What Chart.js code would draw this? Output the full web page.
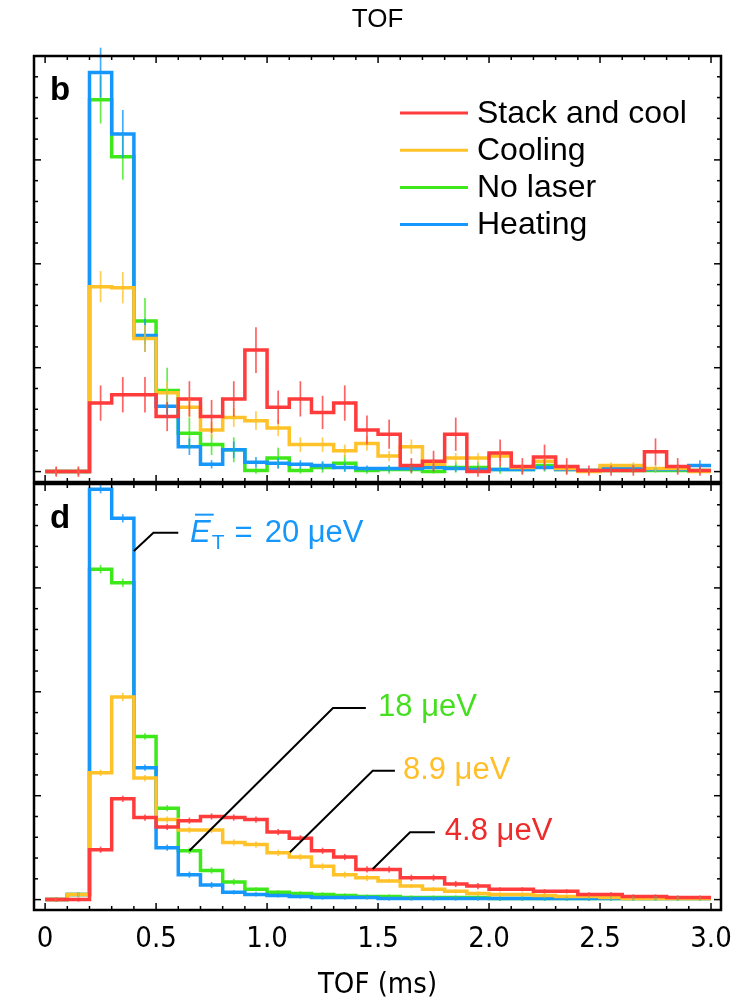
<!DOCTYPE html>
<html>
<head>
<meta charset="utf-8">
<script src="https://cdn.jsdelivr.net/npm/chart.js@4.4.1/dist/chart.umd.min.js"></script>
<style>
  html, body { margin: 0; padding: 0; background: #fff; }
  #wrap { position: relative; width: 749px; height: 1001px; overflow: hidden; }
  canvas { position: absolute; left: 0; }
  #top { top: 0; }
  #bottom { top: 476px; }
</style>
</head>
<body>
<div id="wrap">
  <canvas id="top" width="749" height="490"></canvas>
  <canvas id="bottom" width="749" height="525"></canvas>
</div>
<script>
// TOF histogram bin edges (ms), 0.1 ms bins
const binEdges = [0.0, 0.1, 0.2, 0.3, 0.4, 0.5, 0.6, 0.7, 0.8, 0.9, 1.0, 1.1, 1.2, 1.3, 1.4, 1.5,
  1.6, 1.7, 1.8, 1.9, 2.0, 2.1, 2.2, 2.3, 2.4, 2.5, 2.6, 2.7, 2.8, 2.9, 3.0];

const seriesNames = ['Stack and cool', 'Cooling', 'No laser', 'Heating'];
const seriesColors = ['#ff3b3b', '#ffc229', '#3ee81a', '#1597fb'];
const seriesLayer = [0, 1, 3, 2]; // red on top, heating above no laser

// panel b (measured)
const bStack = [0.00, 0.00, 0.66, 0.74, 0.74, 0.53, 0.70, 0.53, 0.70, 1.17, 0.62, 0.70, 0.57, 0.66, 0.40,
  0.36, 0.06, 0.10, 0.36, 0.00, 0.18, 0.05, 0.14, 0.05, 0.01, 0.01, 0.01, 0.19, 0.05, 0.01];
const bCool = [0.00, 0.00, 1.78, 1.77, 1.28, 0.76, 0.62, 0.40, 0.52, 0.49, 0.42, 0.26, 0.26, 0.20, 0.27,
  0.15, 0.24, 0.07, 0.13, 0.13, 0.15, 0.04, 0.10, 0.03, 0.00, 0.06, 0.06, 0.03, 0.03, 0.00];
const bNoLaser = [0.00, 0.00, 3.58, 3.03, 1.45, 0.78, 0.37, 0.26, 0.21, 0.01, 0.13, 0.01, 0.04, 0.08, 0.01,
  0.02, 0.02, 0.00, 0.04, 0.04, 0.02, 0.02, 0.06, 0.02, 0.01, 0.01, 0.01, 0.01, 0.01, 0.01];
const bHeat = [0.00, 0.00, 3.84, 3.25, 1.31, 0.63, 0.24, 0.07, 0.21, 0.09, 0.08, 0.07, 0.06, 0.04, 0.03,
  0.03, 0.03, 0.04, 0.03, 0.02, 0.02, 0.02, 0.04, 0.02, 0.01, 0.03, 0.04, 0.02, 0.02, 0.06];

const bStackErr = [0.05, 0.05, 0.17, 0.17, 0.17, 0.14, 0.17, 0.16, 0.17, 0.22, 0.16, 0.17, 0.16, 0.17, 0.14,
  0.14, 0.07, 0.10, 0.16, 0.05, 0.13, 0.08, 0.12, 0.08, 0.05, 0.05, 0.05, 0.13, 0.08, 0.05];
const bCoolErr = [0.03, 0.03, 0.15, 0.15, 0.13, 0.11, 0.10, 0.08, 0.09, 0.09, 0.08, 0.07, 0.07, 0.06, 0.07,
  0.05, 0.07, 0.04, 0.05, 0.05, 0.05, 0.03, 0.04, 0.03, 0.02, 0.03, 0.03, 0.03, 0.03, 0.02];
const bNoLaserErr = [0.03, 0.03, 0.23, 0.22, 0.22, 0.22, 0.15, 0.10, 0.12, 0.03, 0.10, 0.03, 0.05, 0.08, 0.03,
  0.04, 0.04, 0.02, 0.05, 0.05, 0.04, 0.04, 0.06, 0.04, 0.02, 0.02, 0.02, 0.02, 0.02, 0.02];
const bHeatErr = [0.03, 0.03, 0.24, 0.23, 0.16, 0.11, 0.08, 0.04, 0.08, 0.05, 0.05, 0.04, 0.04, 0.04, 0.03,
  0.03, 0.03, 0.03, 0.03, 0.02, 0.02, 0.02, 0.03, 0.02, 0.02, 0.03, 0.03, 0.02, 0.02, 0.05];

// panel d (simulated)
const dStack = [0.00, 0.00, 0.48, 0.97, 0.79, 0.70, 0.76, 0.80, 0.79, 0.77, 0.65, 0.59, 0.47, 0.41, 0.29,
  0.29, 0.21, 0.21, 0.15, 0.13, 0.10, 0.10, 0.08, 0.08, 0.05, 0.05, 0.03, 0.03, 0.02, 0.02];
const dCool = [0.00, 0.05, 1.22, 1.95, 1.17, 0.77, 0.67, 0.67, 0.55, 0.53, 0.45, 0.41, 0.32, 0.24, 0.21,
  0.18, 0.13, 0.10, 0.08, 0.06, 0.05, 0.05, 0.04, 0.03, 0.03, 0.02, 0.01, 0.01, 0.01, 0.01];
const dNoLaser = [0.00, 0.05, 3.18, 3.05, 1.57, 0.88, 0.47, 0.28, 0.17, 0.10, 0.07, 0.06, 0.05, 0.04, 0.03,
  0.03, 0.02, 0.02, 0.02, 0.02, 0.01, 0.01, 0.01, 0.01, 0.01, 0.01, 0.01, 0.01, 0.01, 0.01];
const dHeat = [0.00, 0.05, 3.95, 3.67, 1.27, 0.50, 0.24, 0.14, 0.07, 0.05, 0.04, 0.03, 0.02, 0.02, 0.02,
  0.01, 0.01, 0.01, 0.01, 0.01, 0.01, 0.01, 0.01, 0.01, 0.01, 0.01, 0.01, 0.01, 0.01, 0.01];

const dStackErr = [0.02, 0.02, 0.03, 0.03, 0.03, 0.03, 0.03, 0.03, 0.03, 0.03, 0.03, 0.03, 0.03, 0.03, 0.03,
  0.03, 0.03, 0.03, 0.03, 0.03, 0.02, 0.02, 0.02, 0.02, 0.02, 0.02, 0.02, 0.02, 0.02, 0.02];
const dCoolErr = [0.02, 0.02, 0.03, 0.04, 0.03, 0.03, 0.03, 0.03, 0.03, 0.03, 0.03, 0.03, 0.03, 0.03, 0.03,
  0.02, 0.02, 0.02, 0.02, 0.02, 0.02, 0.02, 0.02, 0.02, 0.02, 0.02, 0.02, 0.02, 0.02, 0.02];
const dNoLaserErr = [0.02, 0.02, 0.04, 0.04, 0.03, 0.03, 0.03, 0.03, 0.03, 0.02, 0.02, 0.02, 0.02, 0.02, 0.02,
  0.02, 0.02, 0.02, 0.02, 0.02, 0.02, 0.02, 0.02, 0.02, 0.02, 0.02, 0.02, 0.02, 0.02, 0.02];
const dHeatErr = [0.02, 0.02, 0.04, 0.04, 0.03, 0.03, 0.03, 0.03, 0.02, 0.02, 0.02, 0.02, 0.02, 0.02, 0.02,
  0.02, 0.02, 0.02, 0.02, 0.02, 0.02, 0.02, 0.02, 0.02, 0.02, 0.02, 0.02, 0.02, 0.02, 0.02];

const xTickValues = [0, 0.5, 1.0, 1.5, 2.0, 2.5, 3.0];
const xTickLabels = ['0', '0.5', '1.0', '1.5', '2.0', '2.5', '3.0'];

// mean energy labels for panel d, placed in data coordinates
const energyNotes = [
  { label: '20 μeV', color: '#1597fb', symbol: true, at: [0.653, 3.445],
    path: [[0.40, 3.355], [0.488, 3.531], [0.60, 3.531]] },
  { label: '18 μeV', color: '#45df1f', at: [1.50, 1.767],
    path: [[0.650, 0.471], [1.297, 1.844], [1.445, 1.844]] },
  { label: '8.9 μeV', color: '#ffbf2a', at: [1.612, 1.161],
    path: [[1.103, 0.455], [1.476, 1.241], [1.576, 1.241]] },
  { label: '4.8 μeV', color: '#ee2b2b', at: [1.801, 0.574],
    path: [[1.476, 0.295], [1.644, 0.648], [1.756, 0.648]] },
];

const SANS = '"Liberation Sans", Arial, Helvetica, sans-serif';
const NARROW = '"Liberation Sans Narrow", "DejaVu Sans Condensed", "Liberation Sans", sans-serif';

// histogram outline: value of each bin held from its left edge to its right edge
const toSteps = (vals) => {
  const pts = vals.map((v, i) => ({ x: binEdges[i], y: v }));
  pts.push({ x: binEdges[vals.length], y: vals[vals.length - 1] });
  return pts;
};

const makeDatasets = (series, errs) => series.map((vals, i) => ({
  label: seriesNames[i],
  data: toSteps(vals),
  err: errs[i],
  order: seriesLayer[i],
  borderColor: seriesColors[i],
  borderWidth: 3.5,
  stepped: 'before',
  pointRadius: 0,
  fill: false,
  clip: 6,
}));

const line = (ctx, x1, y1, x2, y2) => {
  ctx.beginPath();
  ctx.moveTo(x1, y1);
  ctx.lineTo(x2, y2);
  ctx.stroke();
};

const panelPlugin = {
  id: 'panel',
  afterDatasetsDraw(chart, args, opts) {
    const { ctx, chartArea: a } = chart;
    const xs = chart.scales.x;
    const ys = chart.scales.y;
    ctx.save();

    // error bars, back layer first
    const sets = chart.data.datasets.slice().sort((p, q) => q.order - p.order);
    sets.forEach(ds => {
      ctx.strokeStyle = ds.borderColor;
      ctx.globalAlpha = 0.8;
      ctx.lineWidth = 1.7;
      ds.err.forEach((e, i) => {
        const xc = xs.getPixelForValue((binEdges[i] + binEdges[i + 1]) / 2);
        const v = ds.data[i].y;
        line(ctx, xc, ys.getPixelForValue(v - e), xc, ys.getPixelForValue(v + e));
      });
    });
    ctx.globalAlpha = 1;

    // frame with inward ticks on all four sides
    ctx.strokeStyle = '#000';
    ctx.lineWidth = 2.5;
    ctx.strokeRect(a.left, a.top, a.right - a.left, a.bottom - a.top);
    ctx.lineWidth = 1.5;
    for (let i = 0; i <= 30; i++) {
      const px = xs.getPixelForValue(i / 10);
      const len = i % 5 === 0 ? 7 : 4;
      line(ctx, px, a.top, px, a.top + len);
      line(ctx, px, a.bottom, px, a.bottom - len);
    }
    for (let i = 0; i <= 20; i++) {
      const py = ys.getPixelForValue(i / 5);
      const len = i % 5 === 0 ? 7 : 4;
      line(ctx, a.left, py, a.left + len, py);
      line(ctx, a.right, py, a.right - len, py);
    }

    // panel letter
    ctx.fillStyle = '#000';
    ctx.font = 'bold 33px ' + SANS;
    ctx.textBaseline = 'alphabetic';
    ctx.fillText(opts.letter, a.left + 16, a.top + 44);

    // legend
    if (opts.legend) {
      ctx.font = '32px ' + SANS;
      ctx.textBaseline = 'middle';
      seriesNames.forEach((name, i) => {
        const yy = a.top + 57 + i * 37.2;
        ctx.strokeStyle = seriesColors[i];
        ctx.lineWidth = 3;
        line(ctx, a.right - 321, yy, a.right - 253, yy);
        ctx.fillStyle = '#000';
        ctx.fillText(name, a.right - 244, yy + 1);
      });
    }

    // energy annotations with leader lines
    if (opts.notes) {
      opts.notes.forEach(n => {
        ctx.strokeStyle = '#000';
        ctx.lineWidth = 2;
        ctx.beginPath();
        n.path.forEach((p, k) => {
          const px = xs.getPixelForValue(p[0]);
          const py = ys.getPixelForValue(p[1]);
          if (k === 0) ctx.moveTo(px, py); else ctx.lineTo(px, py);
        });
        ctx.stroke();

        let tx = xs.getPixelForValue(n.at[0]);
        const ty = ys.getPixelForValue(n.at[1]);
        ctx.fillStyle = n.color;
        ctx.textBaseline = 'alphabetic';
        if (n.symbol) {
          ctx.font = 'italic 31px ' + SANS;
          ctx.fillText('E', tx, ty);
          const w = ctx.measureText('E').width;
          ctx.strokeStyle = n.color;
          ctx.lineWidth = 2;
          line(ctx, tx + 5, ty - 27, tx + w + 3, ty - 27);
          ctx.font = '21px ' + SANS;
          ctx.fillText('T', tx + w + 1, ty + 7);
          tx += w + ctx.measureText('T').width + 11;
          ctx.font = '31px ' + SANS;
          ctx.fillText('=', tx, ty);
          tx += ctx.measureText('=').width + 12;
        }
        ctx.font = '31px ' + SANS;
        ctx.fillText(n.label, tx, ty);
      });
    }
    ctx.restore();
  }
};

const xScale = (show) => ({
  type: 'linear',
  min: -0.05,
  max: 3.045,
  display: show,
  grid: { display: false, drawTicks: false },
  border: { display: false },
  afterBuildTicks: (s) => { s.ticks = xTickValues.map(v => ({ value: v })); },
  ticks: {
    color: '#000',
    padding: 12,
    font: { family: NARROW, size: 29 },
    callback: (v, i) => xTickLabels[i],
  },
  title: {
    display: show,
    text: 'TOF (ms)',
    color: '#000',
    font: { family: NARROW, size: 29, lineHeight: 1.0 },
    padding: { top: 13, bottom: 1.5 },
  },
  afterFit: (s) => { if (show) s.height = 91; },
});

const yScale = { type: 'linear', min: -0.1, max: 4.0, display: false };

new Chart(document.getElementById('top'), {
  type: 'line',
  data: { datasets: makeDatasets([bStack, bCool, bNoLaser, bHeat], [bStackErr, bCoolErr, bNoLaserErr, bHeatErr]) },
  options: {
    responsive: false,
    animation: false,
    layout: { padding: { left: 34, right: 28, top: 0, bottom: 8 } },
    scales: { x: xScale(false), y: yScale },
    plugins: {
      legend: { display: false },
      tooltip: { enabled: false },
      title: {
        display: true,
        text: 'TOF',
        color: '#000',
        font: { family: SANS, size: 26, weight: 'normal', lineHeight: 1.2 },
        padding: { top: 4.4, bottom: 20.4 },
      },
      panel: { letter: 'b', legend: true },
    },
  },
  plugins: [panelPlugin],
});

new Chart(document.getElementById('bottom'), {
  type: 'line',
  data: { datasets: makeDatasets([dStack, dCool, dNoLaser, dHeat], [dStackErr, dCoolErr, dNoLaserErr, dHeatErr]) },
  options: {
    responsive: false,
    animation: false,
    layout: { padding: { left: 34, right: 28, top: 8, bottom: 0 } },
    scales: { x: xScale(true), y: yScale },
    plugins: {
      legend: { display: false },
      tooltip: { enabled: false },
      panel: { letter: 'd', notes: energyNotes },
    },
  },
  plugins: [panelPlugin],
});
</script>
</body>
</html>
